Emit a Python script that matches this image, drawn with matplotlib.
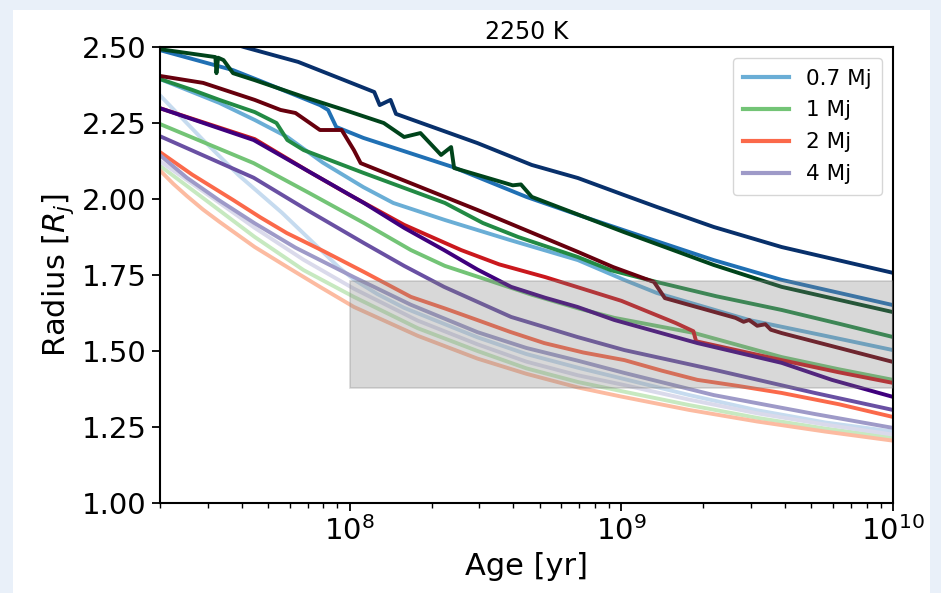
import numpy as np
import matplotlib
matplotlib.use("Agg")
import matplotlib.pyplot as plt
from matplotlib.patches import Rectangle

# planet masses and the colour map of each family
masses = ["0.7 Mj", "1 Mj", "2 Mj", "4 Mj"]
cmaps = ["Blues", "Greens", "Reds", "Purples"]
shades = [0.25, 0.5, 0.75, 1.0]

# log10(age/yr) and radius [R_j] (light -> dark shade)
# 0.7 Mj
lt_07_a = [7.30, 7.46, 7.59, 7.75, 7.89, 7.96, 8.015, 8.10, 8.20, 8.47, 8.65, 8.84, 9.0, 9.25, 9.5, 9.75, 10.0]
r_07_a = [2.342, 2.194, 2.079, 1.955, 1.835, 1.775, 1.735, 1.688, 1.642, 1.545, 1.490, 1.445, 1.410, 1.355, 1.305, 1.265, 1.235]
lt_07_b = [7.30, 7.52, 7.65, 7.77, 7.90, 8.05, 8.16, 8.35, 8.59, 8.84, 9.01, 9.13, 9.47, 9.75, 10.0]
r_07_b = [2.395, 2.316, 2.260, 2.204, 2.120, 2.039, 1.987, 1.931, 1.865, 1.799, 1.734, 1.691, 1.602, 1.550, 1.503]
lt_07_c = [7.30, 7.57, 7.68, 7.89, 7.92, 7.95, 8.05, 8.38, 8.65, 8.85, 9.06, 9.34, 9.59, 10.0]
r_07_c = [2.490, 2.424, 2.385, 2.309, 2.293, 2.237, 2.201, 2.105, 2.007, 1.945, 1.882, 1.799, 1.734, 1.651]
lt_07_d = [7.30, 7.61, 7.81, 7.98, 8.09, 8.11, 8.15, 8.17, 8.47, 8.67, 8.84, 9.01, 9.13, 9.34, 9.59, 10.0]
r_07_d = [2.590, 2.500, 2.451, 2.391, 2.352, 2.309, 2.326, 2.280, 2.184, 2.112, 2.069, 2.013, 1.974, 1.908, 1.842, 1.757]

# 1 Mj
lt_1_a = [7.30, 7.46, 7.65, 7.83, 8.015, 8.25, 8.47, 8.65, 8.84, 9.0, 9.25, 9.5, 9.75, 10.0]
r_1_a = [2.110, 2.003, 1.875, 1.766, 1.678, 1.575, 1.500, 1.443, 1.398, 1.368, 1.322, 1.280, 1.245, 1.215]
lt_1_b = [7.30, 7.646, 7.85, 8.052, 8.225, 8.35, 8.506, 8.67, 8.838, 8.974, 9.269, 9.59, 9.8, 10.0]
r_1_b = [2.247, 2.118, 2.020, 1.921, 1.832, 1.780, 1.734, 1.685, 1.641, 1.609, 1.559, 1.480, 1.440, 1.405]
lt_1_c = [7.30, 7.42, 7.52, 7.65, 7.73, 7.77, 7.83, 8.05, 8.35, 8.49, 8.62, 8.84, 8.96, 9.13, 9.35, 9.59, 9.8, 10.0]
r_1_c = [2.395, 2.359, 2.326, 2.286, 2.250, 2.194, 2.161, 2.086, 1.987, 1.921, 1.875, 1.809, 1.766, 1.727, 1.680, 1.635, 1.590, 1.546]
lt_1_d = [7.30, 7.505, 7.509, 7.515, 7.535, 7.57, 7.65, 7.83, 7.98, 8.125, 8.20, 8.26,
          8.336, 8.373, 8.384, 8.57, 8.60, 8.63, 8.67, 9.01, 9.16, 9.34, 9.59, 10.0]
r_1_d = [2.493, 2.467, 2.414, 2.465, 2.457, 2.414, 2.391, 2.336, 2.293, 2.250, 2.204, 2.217,
         2.145, 2.171, 2.102, 2.053, 2.045, 2.048, 2.007, 1.891, 1.842, 1.783, 1.711, 1.628]

# 2 Mj
lt_2_a = [7.30, 7.35, 7.40, 7.46, 7.52, 7.65, 7.77, 7.89, 8.015, 8.25, 8.47, 8.65, 8.84, 9.0, 9.25, 9.5, 9.75, 10.0]
r_2_a = [2.095, 2.050, 2.010, 1.965, 1.925, 1.842, 1.776, 1.711, 1.645, 1.550, 1.475, 1.425, 1.380, 1.350, 1.306, 1.268, 1.235, 1.205]
lt_2_b = [7.30, 7.42, 7.57, 7.67, 7.768, 7.90, 8.052, 8.225, 8.35, 8.469, 8.59, 8.716, 8.86, 9.011, 9.15, 9.28, 9.43, 9.59, 9.8, 10.0]
r_2_b = [2.155, 2.080, 1.997, 1.940, 1.888, 1.830, 1.760, 1.678, 1.640, 1.602, 1.563, 1.526, 1.495, 1.470, 1.435, 1.405, 1.385, 1.362, 1.325, 1.283]
lt_2_c = [7.30, 7.65, 7.85, 8.00, 8.20, 8.41, 8.55, 8.72, 9.00, 9.20, 9.265, 9.275, 9.59, 9.80, 10.0]
r_2_c = [2.299, 2.197, 2.090, 2.013, 1.915, 1.832, 1.785, 1.743, 1.665, 1.592, 1.565, 1.532, 1.470, 1.430, 1.395]
lt_2_d = [7.30, 7.46, 7.65, 7.745, 7.80, 7.89, 7.97, 8.015, 8.04, 8.47, 8.84, 8.97, 9.12, 9.16,
          9.42, 9.45, 9.47, 9.50, 9.53, 9.55, 9.59, 10.0]
r_2_d = [2.405, 2.382, 2.326, 2.293, 2.283, 2.227, 2.227, 2.161, 2.118, 1.964, 1.826, 1.776, 1.727, 1.674,
         1.609, 1.596, 1.602, 1.583, 1.588, 1.570, 1.559, 1.464]

# 4 Mj
lt_4_a = [7.30, 7.50, 7.65, 7.83, 8.015, 8.25, 8.47, 8.65, 8.84, 9.0, 9.25, 9.5, 9.75, 10.0]
r_4_a = [2.125, 2.000, 1.905, 1.800, 1.705, 1.600, 1.522, 1.465, 1.420, 1.390, 1.340, 1.295, 1.258, 1.225]
lt_4_b = [7.30, 7.40, 7.52, 7.65, 7.80, 8.015, 8.225, 8.47, 8.65, 8.84, 9.01, 9.34, 9.71, 10.0]
r_4_b = [2.145, 2.070, 1.995, 1.920, 1.840, 1.743, 1.652, 1.562, 1.510, 1.468, 1.428, 1.355, 1.293, 1.247]
lt_4_c = [7.30, 7.646, 7.85, 8.052, 8.20, 8.347, 8.594, 8.838, 9.011, 9.343, 9.712, 10.0]
r_4_c = [2.207, 2.070, 1.960, 1.855, 1.780, 1.711, 1.612, 1.546, 1.503, 1.438, 1.362, 1.306]
lt_4_d = [7.30, 7.646, 7.85, 8.052, 8.20, 8.347, 8.47, 8.594, 8.72, 8.838, 8.974, 9.28, 9.59, 9.775, 10.0]
r_4_d = [2.299, 2.194, 2.090, 1.987, 1.905, 1.832, 1.768, 1.711, 1.675, 1.645, 1.602, 1.526, 1.461, 1.405, 1.349]

tracks = [
    [(lt_07_a, r_07_a), (lt_07_b, r_07_b), (lt_07_c, r_07_c), (lt_07_d, r_07_d)],
    [(lt_1_a, r_1_a), (lt_1_b, r_1_b), (lt_1_c, r_1_c), (lt_1_d, r_1_d)],
    [(lt_2_a, r_2_a), (lt_2_b, r_2_b), (lt_2_c, r_2_c), (lt_2_d, r_2_d)],
    [(lt_4_a, r_4_a), (lt_4_b, r_4_b), (lt_4_c, r_4_c), (lt_4_d, r_4_d)],
]

# observed range (grey box)
box_age = [1e8, 1e10]
box_rad = [1.378, 1.730]

fig = plt.figure(figsize=(9.41, 5.93), dpi=100)
fig.patch.set_facecolor("#e9f0f9")
fig.add_artist(Rectangle((13 / 941, 0), 917 / 941, 583 / 593, transform=fig.transFigure,
                         facecolor="white", edgecolor="none", zorder=-10))

ax = fig.add_axes([0.170, 0.1518, 0.779, 0.7689])

for i, mass in enumerate(masses):
    cmap = plt.get_cmap(cmaps[i])
    for j, (lt, r) in enumerate(tracks[i]):
        lab = mass if shades[j] == 0.5 else None
        ax.plot(10 ** np.array(lt), r, color=cmap(shades[j]), lw=2.8, label=lab)

ax.add_patch(Rectangle((box_age[0], box_rad[0]), box_age[1] - box_age[0], box_rad[1] - box_rad[0],
                       facecolor="grey", edgecolor="grey", alpha=0.3, lw=1.2, zorder=5))

ax.set_xscale("log")
ax.set_xlim(2e7, 1e10)
ax.set_ylim(1.0, 2.5)
ax.set_yticks([1.0, 1.25, 1.5, 1.75, 2.0, 2.25, 2.5])
ax.set_yticklabels(["%.2f" % v for v in [1.0, 1.25, 1.5, 1.75, 2.0, 2.25, 2.5]])
ax.tick_params(axis="both", which="major", labelsize=21, length=6, width=1.3)
ax.tick_params(axis="x", which="minor", length=3.5, width=1)
for s in ax.spines.values():
    s.set_linewidth(1.5)

ax.set_xlabel("Age [yr]", fontsize=22)
ax.set_ylabel("Radius [$R_j$]", fontsize=22)
ax.set_title("2250 K", fontsize=17)

leg = ax.legend(loc="upper right", fontsize=15.5, handlelength=2.1, borderpad=0.5,
                labelspacing=0.55, borderaxespad=0.5)
for h in leg.get_lines():
    h.set_linewidth(3)

fig.savefig("out.png", dpi=100, facecolor=fig.get_facecolor())
